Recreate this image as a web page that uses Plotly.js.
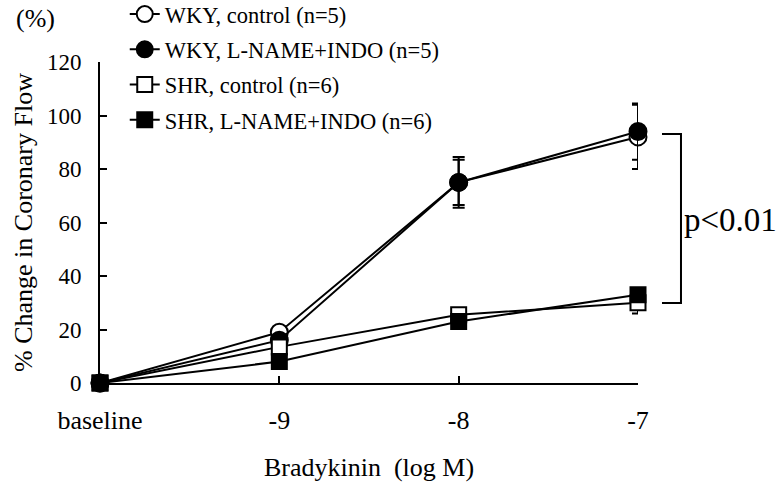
<!DOCTYPE html>
<html>
<head>
<meta charset="utf-8">
<script src="https://cdn.plot.ly/plotly-3.0.1.min.js"></script>
<style>html,body{margin:0;padding:0;background:#fff;}#chart{width:779px;height:489px;}</style>
</head>
<body>
<div id="chart"></div>
<script>
// x positions: baseline, -9, -8, -7 (log M)
const xPos = [0, 1, 2, 3];
const tickLabels = ["baseline", "-9", "-8", "-7"];

const seriesNames = [
  "WKY, control (n=5)",
  "WKY, L-NAME+INDO (n=5)",
  "SHR, control (n=6)",
  "SHR, L-NAME+INDO (n=6)"
];
const wkyControl = [0, 19, 75, 92];
const wkyControlErr = [0, 0, 8.5, 12];
const wkyLname = [0, 16, 75, 94];
const wkyLnameErr = [0, 0, 9.5, 10.5];
const shrControl = [0, 13.5, 25.5, 30];
const shrControlErr = [0, 2.5, 2, 4];
const shrLname = [0, 8, 23, 33];
const shrLnameErr = [0, 1.5, 2.5, 1.5];

const symbols = ["circle-open", "circle", "square-open", "square"];
const sizes = [17, 17, 15, 15];
const ys = [wkyControl, wkyLname, shrControl, shrLname];
const errs = [wkyControlErr, wkyLnameErr, shrControlErr, shrLnameErr];

const FONT = "Liberation Serif, Times New Roman, serif";

const traces = ys.map((y, i) => {
  const open = symbols[i].indexOf("open") >= 0;
  return {
    x: xPos, y: y, name: seriesNames[i], type: "scatter", mode: "lines+markers",
    legendgroup: "g" + i, cliponaxis: false,
    line: {color: "#000", width: 2},
    marker: {
      symbol: open ? symbols[i].replace("-open", "") : symbols[i],
      size: sizes[i],
      color: open ? "#fff" : "#000",
      line: {color: "#000", width: 2}
    },
    error_y: {type: "data", array: errs[i], visible: true, color: "#000", thickness: 2, width: 6}
  };
});

const layout = {
  width: 779, height: 489,
  margin: {l: 100, r: 141, t: 62, b: 106, autoexpand: false},
  paper_bgcolor: "#fff", plot_bgcolor: "#fff",
  font: {family: FONT, color: "#000", size: 22},
  showlegend: true,
  legend: {
    x: 0.046, y: 1.215, xanchor: "left", yanchor: "top",
    font: {family: FONT, size: 22.5, color: "#000"},
    bgcolor: "rgba(0,0,0,0)", tracegroupgap: 3, itemwidth: 30
  },
  xaxis: {
    range: [0, 3], tickvals: xPos, ticktext: tickLabels,
    showline: true, linecolor: "#000", linewidth: 2,
    ticks: "inside", ticklen: 7, tickwidth: 2, tickcolor: "#000",
    showgrid: false, zeroline: false, ticklabelstandoff: 13,
    tickfont: {family: FONT, size: 26},
    title: {text: "Bradykinin\u00a0 (log M)", font: {family: FONT, size: 26}, standoff: 24}
  },
  yaxis: {
    range: [0, 120], dtick: 20,
    showline: true, linecolor: "#000", linewidth: 2,
    ticks: "inside", ticklen: 7, tickwidth: 2, tickcolor: "#000",
    showgrid: false, zeroline: false, ticklabelstandoff: 12,
    tickfont: {family: FONT, size: 23},
    title: {text: "% Change in Coronary Flow", font: {family: FONT, size: 26}, standoff: 7}
  },
  shapes: [{
    type: "path", xref: "paper", yref: "paper",
    path: "M 1.0446,0.7757 L 1.0799,0.7757 L 1.0799,0.2492 L 1.0446,0.2492",
    line: {color: "#000", width: 2}
  }],
  annotations: [
    {text: "(%)", xref: "paper", yref: "paper", x: -0.119, y: 1.137, showarrow: false,
     xanchor: "center", yanchor: "middle", font: {family: FONT, size: 26}},
    {text: "p<0.01", xref: "paper", yref: "paper", x: 1.082, y: 0.507, showarrow: false,
     xanchor: "left", yanchor: "middle", font: {family: FONT, size: 33}}
  ]
};

Plotly.newPlot("chart", traces, layout, {staticPlot: true, displayModeBar: false});
</script>
</body>
</html>
